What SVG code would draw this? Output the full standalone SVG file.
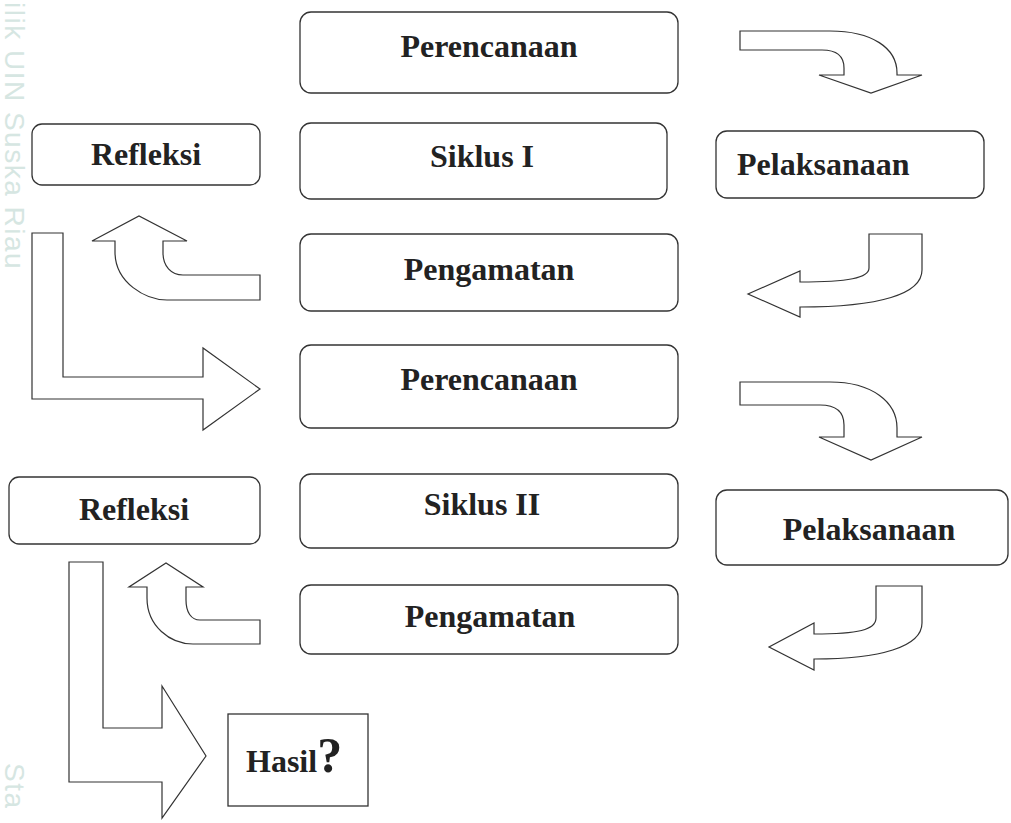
<svg xmlns="http://www.w3.org/2000/svg" width="1011" height="823" viewBox="0 0 1011 823">
<style>
.box{fill:#fff;stroke:#333;stroke-width:1.3}
.arr{fill:#fff;stroke:#333;stroke-width:1.2;stroke-linejoin:miter}
.lbl{font-family:"Liberation Serif","Times New Roman",serif;font-weight:bold;font-size:32px;fill:#222}
.wm{font-family:"Liberation Sans",Arial,sans-serif;font-size:28px;fill:#d6e6e2;letter-spacing:1.5px}
</style>
<rect width="1011" height="823" fill="#fff"/>
<g id="watermark">
<text class="wm" transform="translate(5,0) rotate(90)" x="2" y="0">ilik UIN Suska Riau</text>
<text class="wm" transform="translate(5,0) rotate(90)" x="763" y="0">Sta</text>
</g>
<g id="connectors">
<path class="arr" d="M740,31 L830,31 C872,31 897,48 897,73 L897,75 L922,75 L871,93 L819,75 L844,75 L844,68 C844,56 836,50 822,50 L740,50 Z"/>
<path class="arr" d="M869,234 L922,234 L922,270 C922,294 880,307 800,307 L800,317 L748,294 L800,271 L800,282 C848,282 869,278 869,268 Z"/>
<path class="arr" d="M260,275 L183,275 C171,275 163,266 163,253 L163,241 L187,241 L139,216 L92,241 L115,241 L115,252 C115,283 146,300 167,300 L260,300 Z"/>
<path class="arr" d="M32,233 L63,233 L63,377 L203,377 L203,348 L260,389 L203,430 L203,399 L32,399 Z"/>
<path class="arr" d="M740,382 L830,382 C872,382 897,402 897,428 L897,437 L922,437 L871,460 L819,437 L844,437 L844,425 C844,412 836,405 820,405 L740,405 Z"/>
<path class="arr" d="M876,586 L922,586 L922,623 C922,647 880,659 814,659 L814,670 L769,647 L814,623 L814,634 C858,634 876,630 876,618 Z"/>
<path class="arr" d="M260,620 L200,620 C191,620 186,612 186,600 L186,587 L203,587 L166,563 L129,587 L147,587 L147,598 C147,626 170,644 193,644 L260,644 Z"/>
<path class="arr" d="M69,562 L103,562 L103,728 L162,728 L162,686 L206,756 L162,818 L162,782 L69,782 Z"/>
</g>
<g id="perencanaan1"><rect class="box" x="300" y="12" width="378" height="81" rx="11"/><text class="lbl" x="489" y="57" text-anchor="middle">Perencanaan</text></g>
<g id="siklus1"><rect class="box" x="300" y="123" width="367" height="76" rx="11"/><text class="lbl" x="482" y="167" text-anchor="middle">Siklus I</text></g>
<g id="refleksi1"><rect class="box" x="32" y="124" width="228" height="61" rx="10"/><text class="lbl" x="146" y="165" text-anchor="middle">Refleksi</text></g>
<g id="pelaksanaan1"><rect class="box" x="716" y="131" width="268" height="67" rx="11"/><text class="lbl" x="737" y="175">Pelaksanaan</text></g>
<g id="pengamatan1"><rect class="box" x="300" y="234" width="378" height="77" rx="11"/><text class="lbl" x="489" y="280" text-anchor="middle">Pengamatan</text></g>
<g id="perencanaan2"><rect class="box" x="300" y="345" width="378" height="83" rx="11"/><text class="lbl" x="489" y="390" text-anchor="middle">Perencanaan</text></g>
<g id="siklus2"><rect class="box" x="300" y="474" width="378" height="74" rx="11"/><text class="lbl" x="482" y="515" text-anchor="middle">Siklus II</text></g>
<g id="refleksi2"><rect class="box" x="9" y="477" width="251" height="67" rx="10"/><text class="lbl" x="134" y="520" text-anchor="middle">Refleksi</text></g>
<g id="pelaksanaan2"><rect class="box" x="716" y="490" width="292" height="75" rx="11"/><text class="lbl" x="869" y="540" text-anchor="middle">Pelaksanaan</text></g>
<g id="pengamatan2"><rect class="box" x="300" y="585" width="378" height="69" rx="11"/><text class="lbl" x="490" y="627" text-anchor="middle">Pengamatan</text></g>
<g id="hasil"><rect class="box" x="228" y="714" width="140" height="92"/><text class="lbl" x="246" y="772">Hasil<tspan font-size="50">?</tspan></text></g>
</svg>
